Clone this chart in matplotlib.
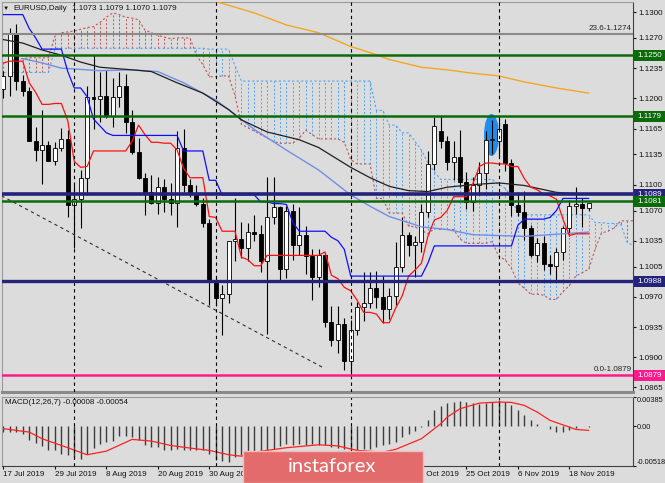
import numpy as np
import matplotlib
matplotlib.use("Agg")
import matplotlib.pyplot as plt
import matplotlib.transforms as mtransforms
from matplotlib.patches import Rectangle, Ellipse

plt.rcParams['font.family'] = ['Liberation Sans', 'DejaVu Sans']

W, H = 665, 483
BG = '#dcdcdc'

# ---- daily bars, index 0 = 17 Jul 2019 ----
opens = [1.1211, 1.1226, 1.1276, 1.1220, 1.1209, 1.1151, 1.1140, 1.1146, 1.1127, 1.1143,
         1.1153, 1.1076, 1.1083, 1.1108, 1.1202, 1.1199, 1.1203, 1.1180, 1.1201, 1.1214,
         1.1172, 1.1138, 1.1108, 1.1091, 1.1079, 1.1097, 1.1083, 1.1079, 1.1143, 1.1100,
         1.1090, 1.1077, 1.1056, 1.0989, 1.0969, 1.0973, 1.1035, 1.1037, 1.1027, 1.1045,
         1.1043, 1.1011, 1.1063, 1.1074, 1.1002, 1.1070, 1.1030, 1.1042, 1.1017, 1.0993,
         1.1019, 1.0941, 1.0920, 1.0938, 1.0896, 1.0932, 1.0958, 1.0963, 1.0980, 1.0970,
         1.0956, 1.0971, 1.1005, 1.1042, 1.1030, 1.1033, 1.1068, 1.1124, 1.1162, 1.1150,
         1.1126, 1.1132, 1.1103, 1.1080, 1.1100, 1.1114, 1.1152, 1.1150, 1.1170, 1.1125,
         1.1076, 1.1068, 1.1050, 1.1019, 1.1032, 1.1008, 1.1006, 1.1022, 1.1050, 1.1075,
         1.1077, 1.1073]
highs = [1.1232, 1.1282, 1.1286, 1.1227, 1.1213, 1.1167, 1.1186, 1.1151, 1.1149, 1.1166,
         1.1163, 1.1099, 1.1117, 1.1214, 1.1250, 1.1231, 1.1233, 1.1224, 1.1230, 1.1228,
         1.1186, 1.1154, 1.1113, 1.1111, 1.1109, 1.1106, 1.1102, 1.1162, 1.1165, 1.1106,
         1.1100, 1.1084, 1.1060, 1.0993, 1.0984, 1.1035, 1.1085, 1.1057, 1.1055, 1.1065,
         1.1053, 1.1109, 1.1109, 1.1075, 1.1075, 1.1077, 1.1074, 1.1052, 1.1025, 1.1025,
         1.1021, 1.0959, 1.0959, 1.0945, 1.0943, 1.0964, 1.0999, 1.0999, 1.1000, 1.0994,
         1.0980, 1.1034, 1.1062, 1.1045, 1.1040, 1.1077, 1.1139, 1.1178, 1.1179, 1.1156,
         1.1150, 1.1163, 1.1115, 1.1109, 1.1126, 1.1162, 1.1175, 1.1177, 1.1176, 1.1130,
         1.1092, 1.1093, 1.1053, 1.1038, 1.1040, 1.1019, 1.1027, 1.1052, 1.1082, 1.1097,
         1.1085, 1.1079]
lows = [1.1200, 1.1203, 1.1210, 1.1203, 1.1150, 1.1127, 1.1101, 1.1127, 1.1123, 1.1139,
        1.1062, 1.1027, 1.1050, 1.1088, 1.1164, 1.1173, 1.1177, 1.1167, 1.1190, 1.1160,
        1.1136, 1.1106, 1.1065, 1.1078, 1.1066, 1.1068, 1.1065, 1.1051, 1.1092, 1.1086,
        1.1075, 1.1051, 1.0960, 1.0959, 1.0926, 1.0963, 1.1012, 1.1015, 1.1011, 1.1035,
        1.0999, 1.0927, 1.1054, 1.0988, 1.0992, 1.1013, 1.1019, 1.0997, 1.0966, 1.0981,
        1.0935, 1.0913, 1.0905, 1.0885, 1.0879, 1.0926, 1.0942, 1.0957, 1.0957, 1.0940,
        1.0944, 1.0960, 1.0999, 1.1017, 1.0993, 1.1022, 1.1062, 1.1117, 1.1142, 1.1117,
        1.1105, 1.1097, 1.1072, 1.1070, 1.1088, 1.1095, 1.1136, 1.1133, 1.1116, 1.1064,
        1.1064, 1.1036, 1.1016, 1.1010, 1.1001, 1.0997, 1.0989, 1.1013, 1.1040, 1.1066,
        1.1051, 1.1070]
closes = [1.1226, 1.1275, 1.1220, 1.1209, 1.1151, 1.1140, 1.1146, 1.1127, 1.1143, 1.1153,
          1.1076, 1.1083, 1.1108, 1.1202, 1.1199, 1.1203, 1.1180, 1.1201, 1.1214, 1.1172,
          1.1138, 1.1108, 1.1091, 1.1079, 1.1097, 1.1083, 1.1079, 1.1143, 1.1100, 1.1090,
          1.1077, 1.1056, 1.0989, 1.0969, 1.0973, 1.1035, 1.1037, 1.1027, 1.1045, 1.1043,
          1.1011, 1.1063, 1.1074, 1.1002, 1.1070, 1.1030, 1.1042, 1.1017, 1.0993, 1.1019,
          1.0941, 1.0920, 1.0938, 1.0896, 1.0932, 1.0958, 1.0963, 1.0980, 1.0970, 1.0956,
          1.0971, 1.1005, 1.1042, 1.1030, 1.1033, 1.1068, 1.1124, 1.1168, 1.1150, 1.1126,
          1.1132, 1.1103, 1.1080, 1.1100, 1.1114, 1.1152, 1.1153, 1.1165, 1.1125, 1.1076,
          1.1068, 1.1050, 1.1019, 1.1032, 1.1008, 1.1006, 1.1022, 1.1050, 1.1075, 1.1077,
          1.1073, 1.1079]

# ichimoku lines
tenkan = [1.1241, 1.1243, 1.1243, 1.1243, 1.1218, 1.1207, 1.1193, 1.1193, 1.1194, 1.1194,
          1.1174, 1.1127, 1.1120, 1.1121, 1.1139, 1.1139, 1.1139, 1.1139, 1.1139, 1.1139,
          1.1150, 1.1169, 1.1158, 1.1149, 1.1149, 1.1148, 1.1148, 1.1140, 1.1119, 1.1108,
          1.1108, 1.1108, 1.1063, 1.1062, 1.1046, 1.1046, 1.1046, 1.1016, 1.1013, 1.1006,
          1.1006, 1.1018, 1.1018, 1.1018, 1.1018, 1.1018, 1.1018, 1.1018, 1.1018, 1.1018,
          1.1022, 1.0995, 1.0991, 1.0981, 1.0977, 1.0966, 1.0952, 1.0952, 1.0950, 1.0940,
          1.0940, 1.0957, 1.0971, 1.0994, 1.1001, 1.1009, 1.1040, 1.1059, 1.1062, 1.1070,
          1.1086, 1.1086, 1.1086, 1.1101, 1.1121, 1.1125, 1.1125, 1.1124, 1.1124, 1.1121,
          1.1121, 1.1107, 1.1097, 1.1094, 1.1089, 1.1087, 1.1083, 1.1060, 1.1041, 1.1043,
          1.1043, 1.1043]
kijun = [1.1297, 1.1297, 1.1297, 1.1297, 1.1281, 1.1270, 1.1257, 1.1257, 1.1257, 1.1257,
         1.1231, 1.1212, 1.1212, 1.1202, 1.1176, 1.1168, 1.1160, 1.1157, 1.1157, 1.1157,
         1.1157, 1.1157, 1.1157, 1.1157, 1.1157, 1.1157, 1.1157, 1.1157, 1.1139, 1.1139,
         1.1139, 1.1139, 1.1105, 1.1105, 1.1088, 1.1088, 1.1088, 1.1088, 1.1088, 1.1088,
         1.1080, 1.1080, 1.1078, 1.1078, 1.1077, 1.1056, 1.1046, 1.1046, 1.1046, 1.1046,
         1.1046, 1.1039, 1.1035, 1.1025, 1.0994, 1.0994, 1.0994, 1.0994, 1.0994, 1.0994,
         1.0994, 1.0994, 1.0994, 1.0994, 1.0994, 1.0994, 1.1009, 1.1029, 1.1029, 1.1029,
         1.1029, 1.1029, 1.1029, 1.1029, 1.1029, 1.1029, 1.1029, 1.1029, 1.1029, 1.1029,
         1.1053, 1.1060, 1.1060, 1.1060, 1.1060, 1.1062, 1.1070, 1.1084, 1.1084, 1.1084,
         1.1084, 1.1084]
span_a = [1.1241, 1.1243, 1.1245, 1.1246, 1.1247, 1.1247, 1.1247, 1.1247, 1.1272, 1.1276,
          1.1277, 1.1278, 1.1280, 1.1282, 1.1283, 1.1288, 1.1294, 1.1299, 1.1297, 1.1294,
          1.1293, 1.1291, 1.1279, 1.1276, 1.1273, 1.1271, 1.1269, 1.1270, 1.1270, 1.1270,
          1.1250, 1.1239, 1.1225, 1.1225, 1.1226, 1.1226, 1.1203, 1.1170, 1.1166, 1.1162,
          1.1158, 1.1154, 1.1150, 1.1148, 1.1148, 1.1148, 1.1154, 1.1163, 1.1158, 1.1153,
          1.1153, 1.1153, 1.1153, 1.1149, 1.1129, 1.1124, 1.1124, 1.1124, 1.1084, 1.1084,
          1.1067, 1.1067, 1.1067, 1.1052, 1.1051, 1.1047, 1.1043, 1.1049, 1.1048, 1.1048,
          1.1048, 1.1037, 1.1032, 1.1032, 1.1032, 1.1032, 1.1034, 1.1017, 1.1013, 1.1003,
          1.0986, 1.0980, 1.0973, 1.0973, 1.0972, 1.0967, 1.0967, 1.0976, 1.0983, 1.0994,
          1.0998, 1.1002, 1.1025, 1.1044, 1.1046, 1.1050, 1.1058, 1.1058, 1.1058]
span_b = [1.1230, 1.1230, 1.1230, 1.1230, 1.1230, 1.1230, 1.1230, 1.1230, 1.1258, 1.1258,
          1.1258, 1.1258, 1.1258, 1.1258, 1.1258, 1.1258, 1.1258, 1.1258, 1.1258, 1.1258,
          1.1258, 1.1258, 1.1258, 1.1258, 1.1258, 1.1258, 1.1258, 1.1258, 1.1258, 1.1258,
          1.1258, 1.1258, 1.1257, 1.1257, 1.1257, 1.1257, 1.1238, 1.1220, 1.1220, 1.1220,
          1.1220, 1.1220, 1.1220, 1.1220, 1.1220, 1.1220, 1.1220, 1.1220, 1.1220, 1.1220,
          1.1220, 1.1220, 1.1220, 1.1220, 1.1220, 1.1220, 1.1220, 1.1220, 1.1186, 1.1186,
          1.1169, 1.1169, 1.1160, 1.1160, 1.1150, 1.1140, 1.1125, 1.1115, 1.1106, 1.1106,
          1.1106, 1.1106, 1.1106, 1.1106, 1.1106, 1.1106, 1.1106, 1.1100, 1.1096, 1.1086,
          1.1065, 1.1065, 1.1065, 1.1065, 1.1065, 1.1065, 1.1065, 1.1065, 1.1065, 1.1065,
          1.1065, 1.1065, 1.1056, 1.1056, 1.1055, 1.1055, 1.1054, 1.1033, 1.1029]

# moving averages (sampled points)
ma_black_x = [0, 3, 6, 9, 12, 15, 20, 23, 27, 31, 35, 37, 41, 46, 49, 54, 57, 60, 63, 66,
              69, 73, 77, 81, 86, 88, 91]
ma_black_y = [1.1268, 1.1264, 1.1256, 1.1250, 1.1242, 1.1236, 1.1233, 1.1231, 1.1218, 1.1206,
              1.1187, 1.1175, 1.1161, 1.1152, 1.1143, 1.1120, 1.1108, 1.1098, 1.1093, 1.1092,
              1.1097, 1.1100, 1.1102, 1.1099, 1.1091, 1.1090, 1.1089]
ma_blue_x = [3, 6, 9, 15, 20, 24, 28, 33, 35, 39, 44, 49, 54, 57, 60, 63, 65, 69, 73, 81, 91]
ma_blue_y = [1.1246, 1.1241, 1.1235, 1.1232, 1.1233, 1.1231, 1.1218, 1.1198, 1.1187, 1.1164,
             1.1140, 1.1117, 1.1088, 1.1075, 1.1063, 1.1056, 1.1051, 1.1048, 1.1042, 1.1040,
             1.1045]
ma_orange_x = [31, 34, 39, 44, 49, 54, 57, 60, 65, 69, 73, 77, 81, 86, 91]
ma_orange_y = [1.1316, 1.1310, 1.1299, 1.1285, 1.1276, 1.1260, 1.1253, 1.1245, 1.1236, 1.1233,
               1.1229, 1.1226, 1.1219, 1.1212, 1.1206]

trend_x = [-0.3, 49.7]
trend_y = [1.1087, 1.0888]

# MACD(12,26,7)
macd_hist = [-0.00074, -0.00074, -0.00074, -0.00096, -0.00174, -0.00218, -0.00262, -0.00314,
             -0.00314, -0.00358, -0.00380, -0.00401, -0.00432, -0.00358, -0.00279, -0.00227,
             -0.00205, -0.00196, -0.00131, -0.00131, -0.00139, -0.00183, -0.00249, -0.00270,
             -0.00270, -0.00305, -0.00305, -0.00292, -0.00314, -0.00314, -0.00314, -0.00314,
             -0.00366, -0.00445, -0.00458, -0.00467, -0.00401, -0.00380, -0.00366, -0.00336,
             -0.00358, -0.00358, -0.00292, -0.00262, -0.00227, -0.00249, -0.00227, -0.00249,
             -0.00227, -0.00249, -0.00249, -0.00270, -0.00279, -0.00292, -0.00314, -0.00305,
             -0.00292, -0.00292, -0.00270, -0.00249, -0.00227, -0.00205, -0.00139, -0.00096,
             -0.00061, -0.00009, 0.00087, 0.00210, 0.00266, 0.00306, 0.00319, 0.00332,
             0.00319, 0.00306, 0.00297, 0.00306, 0.00319, 0.00340, 0.00319, 0.00275,
             0.00218, 0.00144, 0.00079, 0.00035, 0.00004, -0.00030, -0.00074, -0.00074,
             -0.00052, -0.00017, 0.00009, -0.00008]
signal_x = [0, 4, 6, 10, 13, 16, 20, 23, 26, 29, 32, 35, 37, 40, 44, 49, 52, 55, 59, 61,
            65, 68, 69, 71, 74, 77, 79, 81, 83, 85, 88, 89, 91]
signal_y = [-0.00030, -0.00074, -0.00161, -0.00279, -0.00371, -0.00323, -0.00170, -0.00192,
            -0.00249, -0.00283, -0.00314, -0.00370, -0.00390, -0.00325, -0.00279, -0.00240,
            -0.00255, -0.00314, -0.00336, -0.00300, -0.00161, 0.00035, 0.00122, 0.00231,
            0.00305, 0.00319, 0.00314, 0.00275, 0.00188, 0.00079, -0.00009, -0.00039, -0.00052]

levels = [1.1274, 1.1250, 1.1179, 1.1089, 1.1081, 1.0988, 1.0879]
level_colors = ['#8a8a8a', '#0b6b0b', '#0b6b0b', '#23237a', '#0b6b0b', '#23237a', '#ff1a8c']
level_widths = [1.5, 1.8, 1.8, 2.6, 1.8, 2.4, 1.8]
boxed = [False, True, True, True, True, True, True]

price_ticks = [1.1300, 1.1270, 1.1235, 1.1200, 1.1165, 1.1135, 1.1100, 1.1070, 1.1035,
               1.1005, 1.0970, 1.0935, 1.0900, 1.0865]
# dates hidden under the banner in the original are left out
date_idx = [0, 8, 16, 24, 32, 64, 72, 80, 88]
date_lbl = ['17 Jul 2019', '29 Jul 2019', '8 Aug 2019', '20 Aug 2019', '30 Aug 2019',
            '15 Oct 2019', '25 Oct 2019', '6 Nov 2019', '18 Nov 2019']
month_starts = [11, 33, 54, 77]

FS = 5.8
XLIM = (-0.23, 97.9)

fig = plt.figure(figsize=(W / 100, H / 100), dpi=100, facecolor=BG)


def px_axes(x0, y0, x1, y1):
    a = fig.add_axes([x0 / W, 1 - y1 / H, (x1 - x0) / W, (y1 - y0) / H])
    a.set_facecolor(BG)
    return a


# ---------------- main price panel ----------------
ax = px_axes(2, 2, 633, 392)
ax.set_xlim(*XLIM)
ax.set_ylim(1.08597, 1.13116)

# cloud hatching and spans
sa = np.array(span_a)
sb = np.array(span_b)
xs = np.arange(len(sa))
a_up = sa >= sb
RED_C = '#c05555'
BLUE_C = '#4fa3f5'
ax.vlines(xs[a_up], sb[a_up], sa[a_up], colors=RED_C, linestyles=(0, (2, 2)), lw=0.7, zorder=2)
ax.vlines(xs[~a_up], sa[~a_up], sb[~a_up], colors=BLUE_C, linestyles=(0, (2, 2)), lw=0.7, zorder=2)
ax.plot(xs, sa, color=RED_C, ls=(0, (2, 2)), lw=0.8, zorder=2)
ax.plot(xs, sb, color=BLUE_C, ls=(0, (2, 2)), lw=0.8, zorder=2)

# highlight ellipse behind candles
ax.add_patch(Ellipse((75.9, 1.11575), 2.33, 0.00487, facecolor='#1e8cf0', edgecolor='none', zorder=3))

# candles
x = np.arange(len(closes))
o = np.array(opens)
c = np.array(closes)
ax.vlines(x, lows, highs, color='black', lw=0.8, zorder=4)
body_lo = np.minimum(o, c)
body_h = np.maximum(np.abs(c - o), 0.00003)
ax.bar(x, body_h, bottom=body_lo, width=0.62,
       color=['white' if cc >= oo else 'black' for oo, cc in zip(opens, closes)],
       edgecolor='black', linewidth=0.6, zorder=5)

# moving averages and ichimoku lines
ax.plot(ma_orange_x, ma_orange_y, color='#f5a623', lw=1.0, zorder=6)
ax.plot(ma_blue_x, ma_blue_y, color='#6f8fe8', lw=1.0, zorder=6)
ax.plot(ma_black_x, ma_black_y, color='#202020', lw=0.9, zorder=6)
ax.plot(x, tenkan, color='#ff1010', lw=0.9, zorder=6)
ax.plot(x, kijun, color='#1010ff', lw=0.9, zorder=6)

ax.plot(trend_x, trend_y, color='#303030', ls=(0, (3, 3)), lw=0.8, zorder=6)

# horizontal levels
for lv, col, lw in zip(levels, level_colors, level_widths):
    ax.axhline(lv, color=col, lw=lw, zorder=7)

trans = mtransforms.blended_transform_factory(fig.transFigure, ax.transData)
ppx = (1.13116 - 1.08597) / 390.0
for lv, col, bx in zip(levels, level_colors, boxed):
    if not bx:
        continue
    ax.add_patch(Rectangle((634 / W, lv - 5.5 * ppx), 31 / W, 11 * ppx, transform=trans,
                           facecolor=col, edgecolor='none', clip_on=False, zorder=10))
    ax.text(649.5 / W, lv, '%.4f' % lv, transform=trans, ha='center', va='center',
            color='white', fontsize=FS, zorder=11, clip_on=False)

ax_tr = mtransforms.blended_transform_factory(ax.transAxes, ax.transData)
ax.text(0.9975, 1.1274 + 2 * ppx, '23.6-1.1274', transform=ax_tr, ha='right', va='bottom',
        fontsize=FS, color='#222222', zorder=8)
ax.text(0.9975, 1.0879 + 2 * ppx, '0.0-1.0879', transform=ax_tr, ha='right', va='bottom',
        fontsize=FS, color='#222222', zorder=8)

for m in month_starts:
    ax.axvline(m, color='black', ls=(0, (3, 3)), lw=0.8, zorder=6)

ax.yaxis.tick_right()
ax.set_yticks(price_ticks)
ax.set_yticklabels(['%.4f' % t for t in price_ticks])
ax.tick_params(axis='y', length=2.5, width=0.8, pad=1.5, labelsize=FS, colors='#111111')
ax.tick_params(axis='x', bottom=False, labelbottom=False)
for s in ['left', 'top']:
    ax.spines[s].set_color('#9a9a9a')
ax.spines['right'].set_color('#404040')
ax.spines['bottom'].set_color('#8a8a8a')
ax.spines['bottom'].set_linewidth(2.2)

# ---------------- MACD panel ----------------
mx = px_axes(2, 397, 633, 466)
mx.set_xlim(*XLIM)
mx.set_ylim(-0.00518, 0.00385)
mx.vlines(x, 0, macd_hist, color='#3c3c3c', lw=1.0)
mx.plot(signal_x, signal_y, color='#ff2020', lw=0.9)
for m in month_starts:
    mx.axvline(m, color='black', ls=(0, (3, 3)), lw=0.8)

mx.yaxis.tick_right()
mx.set_yticks([-0.00518, 0.0, 0.00385])
lbls = mx.set_yticklabels(['-0.00518', '0.00', '0.00385'])
lbls[0].set_va('bottom')
lbls[2].set_va('top')
mx.tick_params(axis='y', length=2.0, width=0.8, pad=0.8, labelsize=5.3, colors='#111111')
mx.set_xticks(date_idx)
mx.set_xticklabels(date_lbl, ha='left')
mx.tick_params(axis='x', length=2, width=0.8, pad=1.5, labelsize=FS, colors='#111111')
for s in ['left', 'top']:
    mx.spines[s].set_color('#9a9a9a')
mx.spines['right'].set_color('#404040')
mx.spines['bottom'].set_color('#404040')

# ---------------- texts ----------------
fig.text(3 / W, 1 - 8 / H, '▼', fontsize=4.5, va='center', ha='left', color='#111111')
fig.text(13 / W, 1 - 8 / H, 'EURUSD,Daily', fontsize=FS, va='center', ha='left', color='#111111')
fig.text(72 / W, 1 - 8 / H, '1.1073 1.1079 1.1070 1.1079', fontsize=FS, va='center', ha='left',
         color='#111111')
fig.text(5 / W, 1 - 402 / H, 'MACD(12,26,7) -0.00008 -0.00054', fontsize=FS, va='center',
         ha='left', color='#111111')

# watermark banner
fig.patches.append(Rectangle((243 / W, 0), 180 / W, 32 / H, transform=fig.transFigure,
                             facecolor='#e36b6b', edgecolor='#f2bcbc', lw=1.0, zorder=20))
fig.text(332 / W, 1 - 467 / H, 'instaforex', fontsize=14.5, color='white', ha='center',
         va='center', family=['Lato', 'DejaVu Sans'], zorder=21)

fig.savefig('out.png', dpi=100, facecolor=BG)
